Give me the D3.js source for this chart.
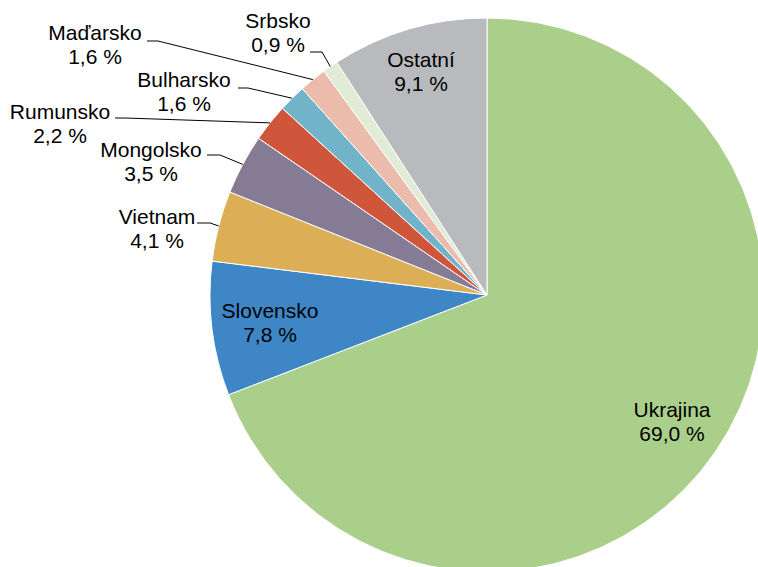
<!DOCTYPE html>
<html>
<head>
<meta charset="utf-8">
<script src="https://cdn.jsdelivr.net/npm/d3@7"></script>
<style>
  html, body { margin: 0; padding: 0; background: #fff; }
  svg { display: block; }
  text { font-family: "Liberation Sans", Arial, sans-serif; font-size: 21px; fill: #000; }
</style>
</head>
<body>
<div id="chart"></div>
<script>
var categories = ['Ukrajina', 'Slovensko', 'Vietnam', 'Mongolsko', 'Rumunsko', 'Bulharsko', 'Maďarsko', 'Srbsko', 'Ostatní'];
var values = [69.0, 7.8, 4.1, 3.5, 2.2, 1.6, 1.6, 0.9, 9.1];
var colors = ['#a9cf8a', '#3e86c6', '#dcaf57', '#857b94', '#cf563a', '#71b3c8', '#ebbcab', '#e0ecd6', '#b8babe'];

// label placement: text centre x, first baseline y
var labelPos = {
  'Ukrajina': [672, 417],
  'Slovensko': [270, 318],
  'Vietnam': [157, 224],
  'Mongolsko': [151, 157],
  'Rumunsko': [60, 119],
  'Bulharsko': [184, 87],
  'Maďarsko': [95, 40],
  'Srbsko': [278, 28],
  'Ostatní': [421, 67]
};
// leader lines: horizontal start x, elbow x, y
var leaders = {
  'Vietnam': [197, 210, 223],
  'Mongolsko': [207, 220, 155],
  'Rumunsko': [115, 125, 118],
  'Bulharsko': [238, 248, 88],
  'Maďarsko': [147, 158, 41],
  'Srbsko': [310, 322, 52]
};

var width = 758, height = 567;
var cx = 487, cy = 295, radius = 277;

var locale = d3.formatLocale({decimal: ',', thousands: ' ', grouping: [3], currency: ['', '']});
var fmt = locale.format('.1f');

var data = categories.map(function (c, i) { return {name: c, value: values[i], color: colors[i]}; });

var svg = d3.select('#chart').append('svg')
  .attr('width', width)
  .attr('height', height);

var g = svg.append('g')
  .attr('transform', 'translate(' + cx + ',' + cy + ')');

var pie = d3.pie()
  .value(function (d) { return d.value; })
  .sort(null);

var arc = d3.arc()
  .innerRadius(0)
  .outerRadius(radius);

var arcs = pie(data);

g.selectAll('path.slice')
  .data(arcs)
  .enter().append('path')
  .attr('class', 'slice')
  .attr('d', arc)
  .attr('fill', function (d) { return d.data.color; })
  .attr('stroke', '#fff')
  .attr('stroke-width', 1);

// leader lines
arcs.forEach(function (d) {
  var l = leaders[d.data.name];
  if (!l) return;
  var mid = (d.startAngle + d.endAngle) / 2;
  var ex = cx + radius * Math.sin(mid);
  var ey = cy - radius * Math.cos(mid);
  svg.append('polyline')
    .attr('points', [[l[0], l[2]], [l[1], l[2]], [ex, ey]].map(function (p) { return p.join(','); }).join(' '))
    .attr('fill', 'none')
    .attr('stroke', '#000')
    .attr('stroke-width', 1);
});

// labels
var labels = svg.selectAll('text.label')
  .data(arcs)
  .enter().append('text')
  .attr('class', 'label')
  .attr('text-anchor', 'middle');

labels.append('tspan')
  .attr('x', function (d) { return labelPos[d.data.name][0]; })
  .attr('y', function (d) { return labelPos[d.data.name][1]; })
  .text(function (d) { return d.data.name; });

labels.append('tspan')
  .attr('x', function (d) { return labelPos[d.data.name][0]; })
  .attr('y', function (d) { return labelPos[d.data.name][1] + 24; })
  .text(function (d) { return fmt(d.data.value) + ' %'; });
</script>
</body>
</html>
